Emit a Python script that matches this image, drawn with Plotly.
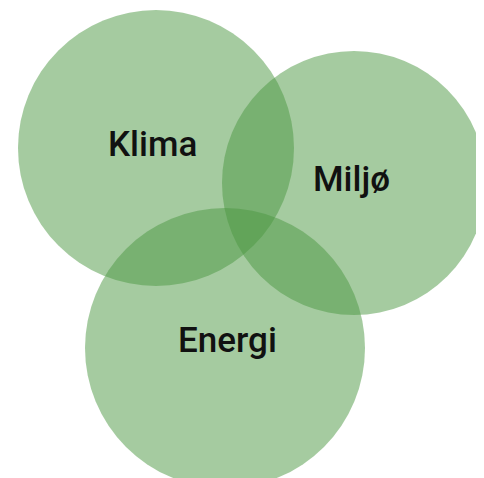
"""Venn-diagram: Klima / Miljø / Energi."""
import plotly.graph_objects as go

# ── data (page-pixel units) ──────────────────────────────────────────────
LABELS = ["Klima", "Miljø", "Energi"]
CENTER_X = [156, 354, 225]
CENTER_Y = [148, 183, 348]
RADIUS = [138, 132, 140]
LABEL_X = [152, 351, 227]
LABEL_Y = [144, 179, 340]

FILL = "rgba(75,151,65,0.5)"
W, H = 484, 478
PAD = 8  # default body margin of the page

fig = go.Figure()

shapes = []
for cx, cy, r in zip(CENTER_X, CENTER_Y, RADIUS):
    shapes.append(dict(
        type="circle", xref="x", yref="y",
        x0=cx - r, x1=cx + r, y0=cy - r, y1=cy + r,
        fillcolor=FILL, line=dict(width=0), layer="below",
    ))

annotations = [
    dict(x=x, y=y, text=t, showarrow=False, xanchor="center", yanchor="middle",
         font=dict(family="Roboto, 'Noto Sans', sans-serif", size=35,
                   color="#111111", weight=500))
    for t, x, y in zip(LABELS, LABEL_X, LABEL_Y)
]

fig.update_layout(
    width=W - PAD, height=H - PAD,
    paper_bgcolor="#ffffff", plot_bgcolor="#ffffff",
    margin=dict(t=0, b=0, l=0, r=0),
    showlegend=False,
    shapes=shapes,
    annotations=annotations,
    xaxis=dict(range=[PAD, W], visible=False, fixedrange=True),
    yaxis=dict(range=[H, PAD], visible=False, fixedrange=True),
)

fig.write_html("out.html")
